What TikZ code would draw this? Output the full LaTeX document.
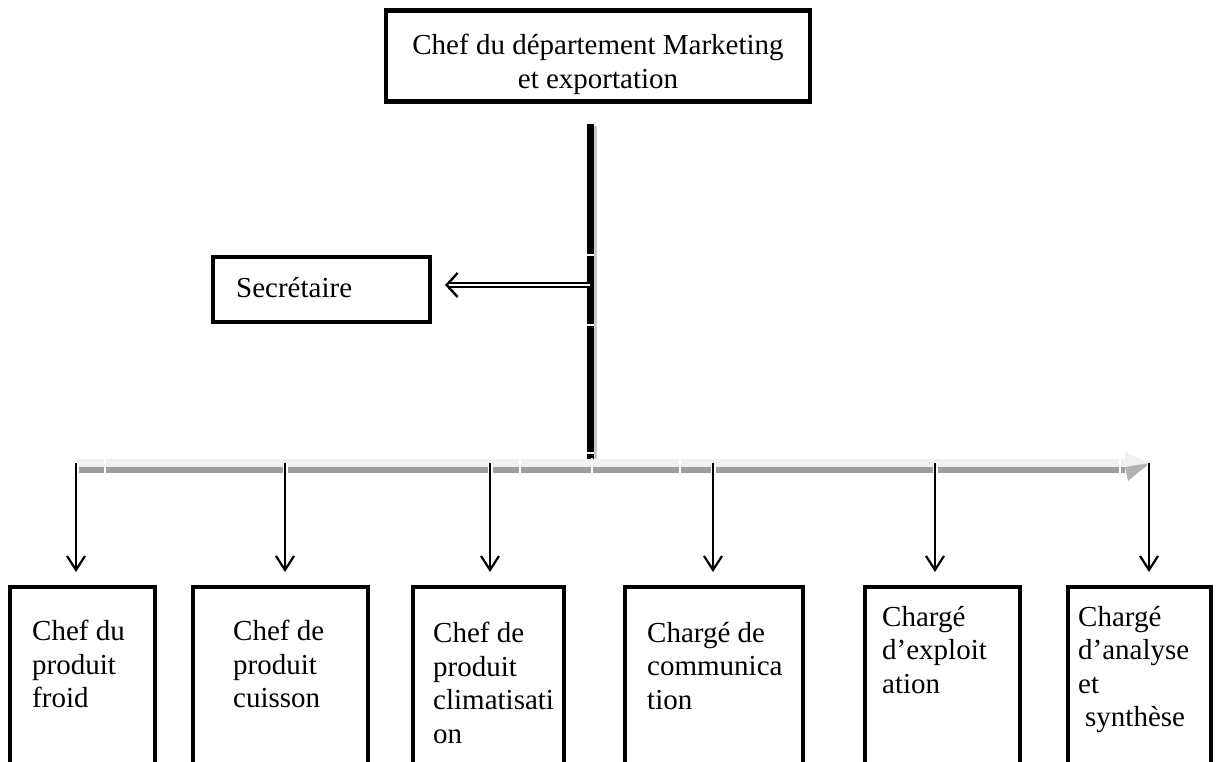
\documentclass[tikz,border=0pt]{standalone}
\usepackage{fontspec}
\setmainfont{Liberation Serif}
\usetikzlibrary{arrows.meta,calc}

\begin{document}
\begin{tikzpicture}[x=1pt,y=-1pt,
  box/.style={draw, line width=4.5pt, inner sep=0pt, outer sep=0pt},
  lbl/.style={font=\fontsize{29}{33.5}\selectfont, inner sep=0pt, anchor=north west, align=left},
  drop/.style={line width=2.2pt, shorten >=15pt,
    -{Straight Barb[length=14pt,width=18pt,line width=2.2pt]},
    preaction={draw=white, line width=5pt, shorten >=15pt, -{Straight Barb[length=14pt,width=20pt,line width=4pt]}}},
  sideline/.style={line width=1.6pt, double=white, double distance=2.2pt, shorten >=15pt,
    -{Straight Barb[length=11pt,width=24pt,line width=2.4pt]}}
]
\useasboundingbox (0,0) rectangle (1216,762);

% head of department
\node[box, minimum width=424pt, minimum height=91pt] (head) at (598,56) {};
\node[lbl, anchor=north, align=center] (headtxt) at (598,34) {Chef du département Marketing\\et exportation};

% main vertical bar, black with a soft shadow and thin breaks
\coordinate (vtop) at (590,124);
\coordinate (vbot) at (590,460);
\fill[black!22] ($(vtop)+(3,2)$) rectangle ($(vbot)+(7,0)$);
\draw[line width=7pt] (vtop) -- (vbot);
\foreach \yy in {255,325,453}
  \draw[white, line width=1.3pt] (585,\yy) -- (594,\yy);

% secretary
\node[box, minimum width=217pt, minimum height=65pt] (sec) at (321.5,289.5) {};
\node[lbl] (sectxt) at (236,277) {Secrétaire};
\coordinate (vsec) at (590,285);
\draw[sideline] (vsec) -- (sec.east |- vsec);

% horizontal distribution bar
\coordinate (hl) at (76,463);
\coordinate (hr) at (1125,463);
\fill[black!6] (76,459) rectangle (1125,467);
\fill[black!38] (76,467) rectangle (1125,473);
\fill[black!6] (1125,452) -- (1150,463) -- (1125,467) -- cycle;
\fill[black!30] (1125,467) -- (1150,463) -- (1128,481) -- cycle;
\foreach \xx in {105,520,592,680,1120}
  \draw[white, line width=1.5pt] (\xx,458) -- (\xx,474);

% department boxes, open at the bottom edge
\node[box, minimum width=145pt, minimum height=200pt, anchor=north west] (b1) at (10,587) {};
\node[box, minimum width=175pt, minimum height=200pt, anchor=north west] (b2) at (193,587) {};
\node[box, minimum width=151pt, minimum height=200pt, anchor=north west] (b3) at (413,587) {};
\node[box, minimum width=178pt, minimum height=200pt, anchor=north west] (b4) at (625,587) {};
\node[box, minimum width=155pt, minimum height=200pt, anchor=north west] (b5) at (865,587) {};
\node[box, minimum width=143pt, minimum height=200pt, anchor=north west] (b6) at (1068,587) {};

\node[lbl] (t1) at (32,620) {Chef du\\produit\\froid};
\node[lbl] (t2) at (233,620) {Chef de\\produit\\cuisson};
\node[lbl] (t3) at (433,622) {Chef de\\produit\\climatisati\\on};
\node[lbl] (t4) at (647,622) {Chargé de\\communica\\tion};
\node[lbl] (t5) at (882,606) {Chargé\\d’exploit\\ation};
\node[lbl] (t6) at (1078,606) {Chargé\\d’analyse\\et\\\hspace*{7pt}synthèse};

% drops from the bar
\foreach \xx/\bb in {76/b1,285/b2,490/b3,713/b4,935/b5,1149/b6}{
  \coordinate (d\bb) at (\xx,463);
  \draw[drop] (d\bb) -- (d\bb |- \bb.north);
}
\end{tikzpicture}
\end{document}
